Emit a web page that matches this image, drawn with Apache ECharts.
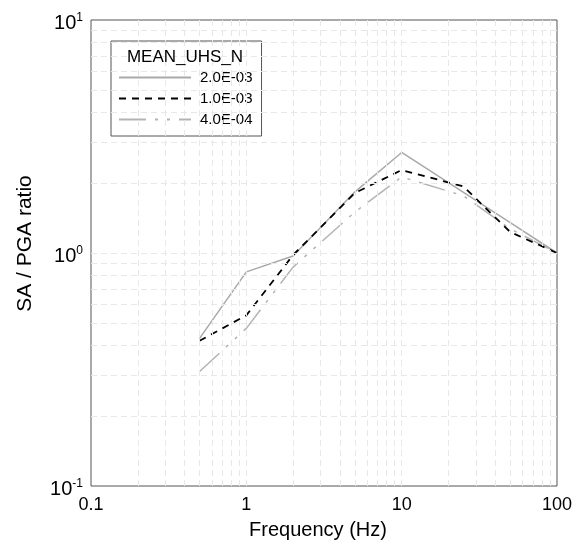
<!DOCTYPE html>
<html>
<head>
<meta charset="utf-8">
<title>SA / PGA ratio</title>
<script src="https://cdn.jsdelivr.net/npm/echarts@6.0.0/dist/echarts.min.js"></script>
<style>
  html, body { margin: 0; padding: 0; background: #fff; }
  #chart { width: 580px; height: 548px; }
</style>
</head>
<body>
<div id="chart"></div>
<script>
// frequencies (Hz) where the spectra are sampled
var freqs = [0.5, 1, 2, 5, 10, 25, 50, 100]
// SA / PGA ratio for each annual exceedance level
var uhs2e3 = [0.43, 0.83, 0.97, 1.83, 2.70, 1.82, 1.35, 1.0]
var uhs1e3 = [0.42, 0.54, 0.98, 1.81, 2.27, 1.93, 1.23, 1.0]
var uhs4e4 = [0.31, 0.475, 0.87, 1.50, 2.12, 1.76, 1.27, 1.0]
var seriesNames = ['2.0E-03', '1.0E-03', '4.0E-04']
var legendTitle = 'MEAN_UHS_N'

// tick labels and log grid positions
var xTickLabels = ['0.1', '1', '10', '100']
var yTickExps = ['-1', '0', '1']
var xGrid = [0.2, 0.3, 0.4, 0.5, 0.6, 0.7, 0.8, 0.9, 1, 2, 3, 4, 5, 6, 7, 8, 9, 10, 20, 30, 40, 50, 60, 70, 80, 90]
var yGrid = [0.2, 0.3, 0.4, 0.5, 0.6, 0.7, 0.8, 0.9, 1, 2, 3, 4, 5, 6, 7, 8, 9]

var font = 'Liberation Sans, Arial, sans-serif'
var chart = echarts.init(document.getElementById('chart'))

function pairs(ys) {
  return freqs.map(function (f, i) { return [f, ys[i]] })
}

var gridLine = { type: [6, 4], color: '#e8e8e8', width: 1 }
var markLines = xGrid.map(function (v) { return { xAxis: v } })
  .concat(yGrid.map(function (v) { return { yAxis: v } }))

chart.setOption({
  animation: false,
  textStyle: { fontFamily: font },
  title: {
    text: legendTitle,
    left: 185,
    top: 49,
    textAlign: 'center',
    padding: 0,
    textStyle: { fontFamily: font, fontSize: 17, fontWeight: 'normal', color: '#000' }
  },
  legend: {
    orient: 'vertical',
    left: 111,
    top: 41,
    padding: [29, 9, 9, 7],
    itemWidth: 72,
    itemHeight: 14,
    itemGap: 6,
    backgroundColor: '#fff',
    borderColor: '#555',
    borderWidth: 1,
    borderRadius: 0,
    itemStyle: { opacity: 0 },
    textStyle: { fontFamily: font, fontSize: 15, color: '#000', padding: [0, 0, 0, 4] },
    data: seriesNames
  },
  grid: {
    left: 91,
    top: 20,
    width: 466,
    height: 466,
    show: true,
    borderColor: '#555',
    borderWidth: 1,
    backgroundColor: 'transparent'
  },
  xAxis: {
    type: 'log',
    logBase: 10,
    min: 0.1,
    max: 100,
    name: 'Frequency (Hz)',
    nameLocation: 'middle',
    nameGap: 34,
    nameTextStyle: { fontFamily: font, fontSize: 20, color: '#000', padding: [0, 12, 0, 0] },
    axisLine: { show: false },
    axisTick: { show: false },
    splitLine: { show: false },
    axisLabel: {
      margin: 10,
      fontFamily: font,
      fontSize: 18,
      color: '#000',
      formatter: function (v) {
        var i = Math.round(Math.log10(v)) + 1
        return xTickLabels[i]
      }
    }
  },
  yAxis: {
    type: 'log',
    logBase: 10,
    min: 0.1,
    max: 10,
    name: 'SA / PGA ratio',
    nameLocation: 'middle',
    nameGap: 55,
    nameTextStyle: { fontFamily: font, fontSize: 21, color: '#000', padding: [0, 0, 0, 19] },
    axisLine: { show: false },
    axisTick: { show: false },
    splitLine: { show: false },
    axisLabel: {
      margin: 8,
      padding: [6, 0, 0, 0],
      color: '#000',
      formatter: function (v) {
        var i = Math.round(Math.log10(v)) + 1
        return '{b|10}{s|' + yTickExps[i] + '}'
      },
      rich: {
        b: { fontFamily: font, fontSize: 20, lineHeight: 22, color: '#000' },
        s: { fontFamily: font, fontSize: 12, lineHeight: 12, verticalAlign: 'top', color: '#000' }
      }
    }
  },
  series: [
    {
      // log grid drawn through the axes
      name: 'grid',
      type: 'line',
      data: [],
      silent: true,
      z: 1,
      markLine: {
        silent: true,
        symbol: ['none', 'none'],
        label: { show: false },
        lineStyle: gridLine,
        data: markLines
      }
    },
    {
      name: seriesNames[0],
      type: 'line',
      data: pairs(uhs2e3),
      symbol: 'none',
      z: 3,
      lineStyle: { color: '#a9a9a9', width: 1.5, type: 'solid' },
      itemStyle: { color: '#a9a9a9' }
    },
    {
      name: seriesNames[1],
      type: 'line',
      data: pairs(uhs1e3),
      symbol: 'none',
      z: 4,
      lineStyle: { color: '#000', width: 1.8, type: [7, 6] },
      itemStyle: { color: '#000' }
    },
    {
      name: seriesNames[2],
      type: 'line',
      data: pairs(uhs4e4),
      symbol: 'none',
      z: 3,
      lineStyle: { color: '#b3b3b3', width: 1.5, type: [27, 9, 3, 9, 3, 9] },
      itemStyle: { color: '#b3b3b3' }
    }
  ]
})
</script>
</body>
</html>
